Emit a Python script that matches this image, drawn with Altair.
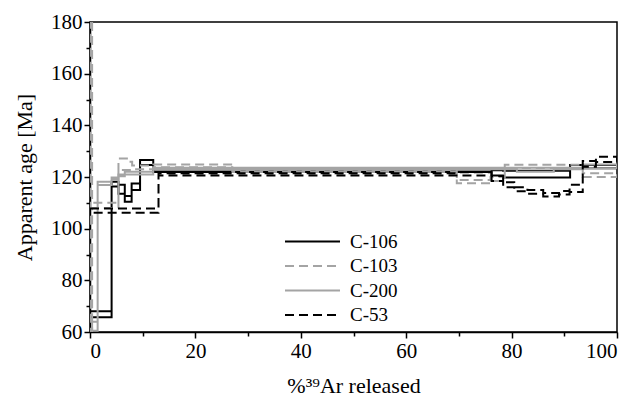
import altair as alt
import pandas as pd

# Step boundaries (% 39Ar released) and the lower / upper age bounds (Ma) of each step
c106_edges = [0, 4.1, 5.4, 6.6, 7.9, 9.5, 12, 76.2, 78.4, 91.1, 100]
c106_lo = [65.7, 116.3, 113.5, 110.4, 115.0, 124.6, 121.9, 120.6, 119.8, 123.4]
c106_hi = [68.0, 118.2, 117.0, 112.6, 117.5, 126.6, 122.9, 122.6, 122.4, 124.6]

c103_edges = [0, 0.4, 5.4, 7.0, 8.0, 12, 27, 69.6, 76, 78.7, 93.5, 100]
c103_lo = [55.0, 108.0, 122.7, 122.7, 123.0, 123.8, 121.9, 117.6, 118.5, 123.5, 120.0]
c103_hi = [190.0, 110.0, 127.2, 125.9, 124.5, 124.8, 122.7, 118.8, 120.0, 124.7, 121.5]

c200_edges = [0.4, 1.45, 4.1, 5.4, 6.6, 12, 81, 88, 93.5, 100]
c200_lo = [60.5, 116.9, 119.0, 120.3, 121.0, 123.0, 122.0, 123.0, 123.4]
c200_hi = [64.0, 118.2, 119.8, 121.0, 122.0, 123.6, 123.6, 123.6, 124.8]

c53_edges = [0, 13, 70, 76.2, 78.4, 80.5, 83, 86, 89, 91, 93.5, 96, 100]
c53_lo = [106.2, 120.6, 120.6, 118.5, 116.0, 114.5, 113.5, 112.5, 113.2, 114.2, 124.0, 125.8]
c53_hi = [107.8, 121.5, 121.8, 120.4, 118.0, 116.0, 115.0, 113.8, 114.6, 117.0, 126.2, 127.8]

sample_names = ["C-106", "C-103", "C-200", "C-53"]
sample_steps = [
    (c106_edges, c106_lo, c106_hi),
    (c103_edges, c103_lo, c103_hi),
    (c200_edges, c200_lo, c200_hi),
    (c53_edges, c53_lo, c53_hi),
]
line_colors = ["#000000", "#a4a4a4", "#a4a4a4", "#000000"]
line_dashes = [[1, 0], [9, 5], [1, 0], [9, 5]]


def outline(name, edges, lo, hi):
    """Closed step outline: upper bounds left to right, lower bounds back."""
    pts = []
    for i, v in enumerate(hi):
        pts += [(edges[i], v), (edges[i + 1], v)]
    for i in reversed(range(len(lo))):
        pts += [(edges[i + 1], lo[i]), (edges[i], lo[i])]
    pts.append((edges[0], hi[0]))
    return [{"sample": name, "order": k, "pct": x, "age": y}
            for k, (x, y) in enumerate(pts)]


rows = []
for name, (e, lo, hi) in zip(sample_names, sample_steps):
    rows += outline(name, e, lo, hi)
df = pd.DataFrame(rows)

font = "Liberation Serif"
major_tick = {"condition": {"test": "datum.value % 20 === 0", "value": 6}, "value": 4}

spectra = alt.Chart(df).mark_line(strokeWidth=2, clip=True).encode(
    x=alt.X("pct:Q",
            scale=alt.Scale(domain=[0, 100], nice=False),
            axis=alt.Axis(
                values=list(range(0, 101, 10)),
                labelExpr="datum.value % 20 === 0 ? datum.label : ''",
                tickSize=major_tick,
                title="%³⁹Ar released",
                titlePadding=14,
                labelPadding=2,
            )),
    y=alt.Y("age:Q",
            scale=alt.Scale(domain=[60, 180], nice=False),
            axis=alt.Axis(
                values=list(range(60, 181, 10)),
                labelExpr="datum.value % 20 === 0 ? datum.label : ''",
                tickSize=major_tick,
                title="Apparent age [Ma]",
                titlePadding=14,
                labelPadding=2,
            )),
    order="order:Q",
    detail="sample:N",
    stroke=alt.Stroke("sample:N",
                      scale=alt.Scale(domain=sample_names, range=line_colors),
                      legend=alt.Legend(title=None)),
    strokeDash=alt.StrokeDash("sample:N",
                              scale=alt.Scale(domain=sample_names, range=line_dashes),
                              legend=alt.Legend(title=None)),
)

chart = spectra.properties(
    width=527,
    height=310,
    autosize=alt.AutoSizeParams(type="none"),
    padding={"left": 90, "top": 22, "right": 21, "bottom": 73},
    background="white",
).configure_view(
    stroke="black", strokeWidth=1.5
).configure_axis(
    domainColor="black", domainWidth=1.5,
    tickColor="black", tickWidth=1.5,
    labelFont=font, labelFontSize=21, labelColor="black",
    titleFont=font, titleFontSize=22, titleFontWeight="normal", titleColor="black",
    grid=False,
).configure_legend(
    orient="none", legendX=213, legendY=210,
    symbolType="M-5,0H5", symbolSize=121, symbolStrokeWidth=2,
    labelFont=font, labelFontSize=19, labelColor="black",
    labelOffset=28, rowPadding=4.5,
)

chart.save("out.html", embed_options={"renderer": "svg", "actions": False})
